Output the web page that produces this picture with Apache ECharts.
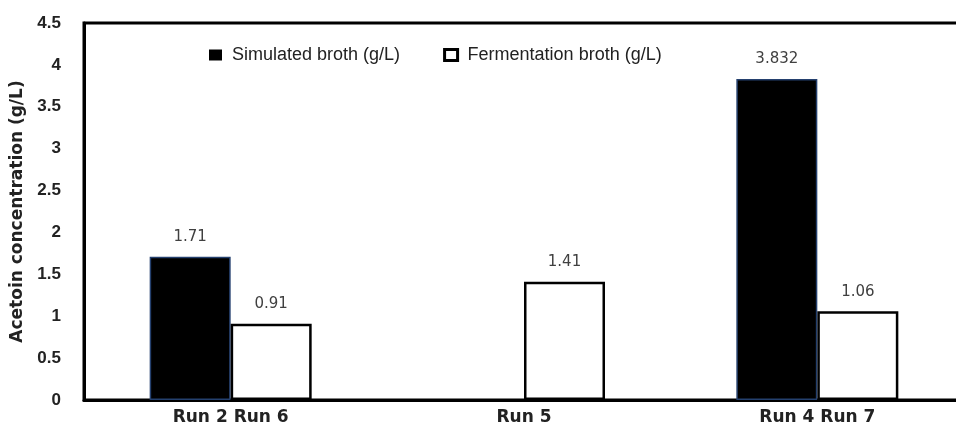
<!DOCTYPE html>
<html><head><meta charset="utf-8">
<script src="https://cdn.jsdelivr.net/npm/echarts@6/dist/echarts.min.js"></script>
<style>html,body{margin:0;padding:0;background:#fff;overflow:hidden}#c{width:966px;height:434px}</style>
</head><body><div id="c"></div>
<script>
const categories = ['Run 2 Run 6', 'Run 5', 'Run 4 Run 7'];
const simulated = [1.71, null, 3.832];
const fermentation = [0.91, 1.41, 1.06];
const yMin = 0, yMax = 4.5, yStep = 0.5;
const seriesNames = ['Simulated broth (g/L)', 'Fermentation broth (g/L)'];
const yTitle = 'Acetoin concentration (g/L)';

const chart = echarts.init(document.getElementById('c'));
const labelStyle = {show: true, position: 'top', distance: 12, fontFamily: 'DejaVu Sans', fontSize: 15, color: '#404040'};
chart.setOption({
  animation: false,
  grid: {left: 84, top: 23, bottom: 34, width: 880, show: true, borderColor: '#000', borderWidth: 3},
  legend: {
    left: 204, top: 41, itemWidth: 13, itemHeight: 11, itemGap: 43,
    textStyle: {fontFamily: 'Liberation Sans', fontSize: 18, color: '#222', padding: [0, 0, 0, 5]},
    data: [
      {name: seriesNames[0], icon: 'rect', itemStyle: {color: '#000', borderColor: '#000', borderWidth: 0}},
      {name: seriesNames[1], icon: 'rect', itemStyle: {color: '#fff', borderColor: '#000', borderWidth: 3}}
    ]
  },
  xAxis: {
    type: 'category', data: categories,
    axisLine: {lineStyle: {color: '#000', width: 3}},
    axisTick: {show: false},
    axisLabel: {fontFamily: 'DejaVu Sans', fontWeight: 'bold', fontSize: 17, color: '#222', margin: 9}
  },
  yAxis: {
    type: 'value', min: yMin, max: yMax, interval: yStep,
    name: yTitle, nameLocation: 'middle', nameGap: 53,
    nameTextStyle: {fontFamily: 'DejaVu Sans', fontWeight: 'bold', fontSize: 17, color: '#222'},
    axisLine: {show: true, lineStyle: {color: '#000', width: 3}},
    axisTick: {show: false},
    splitLine: {show: false},
    axisLabel: {fontFamily: 'Liberation Sans', fontWeight: 'bold', fontSize: 17, color: '#222', margin: 23}
  },
  series: [
    {name: seriesNames[0], type: 'bar', data: simulated, barWidth: 81, barGap: '0%',
     itemStyle: {color: '#000', borderColor: '#24406e', borderWidth: 1.5},
     label: labelStyle},
    {name: seriesNames[1], type: 'bar', data: fermentation, barWidth: 81, barGap: '0%',
     itemStyle: {color: '#fff', borderColor: '#000', borderWidth: 2.5},
     label: labelStyle}
  ]
});
</script></body></html>
